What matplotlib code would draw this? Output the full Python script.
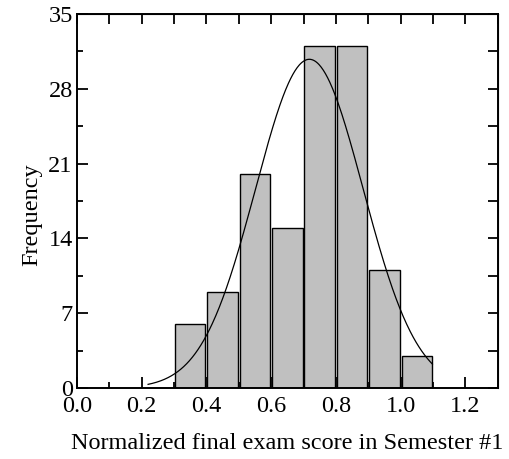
import numpy as np
import matplotlib
matplotlib.use("Agg")
import matplotlib.pyplot as plt

# Data
bin_starts = [0.3, 0.4, 0.5, 0.6, 0.7, 0.8, 0.9, 1.0]
counts = [6, 9, 20, 15, 32, 32, 11, 3]
bin_width = 0.1
fit_mean = 0.718
fit_sd = 0.166
curve_range = (0.22, 1.098)
x_ticks = [0.0, 0.2, 0.4, 0.6, 0.8, 1.0, 1.2]
y_ticks = [0, 7, 14, 21, 28, 35]

plt.rcParams['font.family'] = ['Liberation Serif', 'DejaVu Serif']

fig = plt.figure(figsize=(5.09, 4.59), dpi=100)
ax = fig.add_axes([0.151, 0.1547, 0.827, 0.8148])

ax.bar(np.array(bin_starts) + 0.003, counts, width=0.094, align='edge',
       color='#c0c0c0', edgecolor='black', linewidth=1.0, zorder=2)

N = sum(counts)
xs = np.linspace(curve_range[0], curve_range[1], 400)
ys = N * bin_width / (fit_sd * np.sqrt(2 * np.pi)) * np.exp(-0.5 * ((xs - fit_mean) / fit_sd) ** 2)
ax.plot(xs, ys, color='black', linewidth=0.9, zorder=3)

ax.set_xlim(0, 1.3)
ax.set_ylim(0, 35)
ax.set_xticks(x_ticks)
ax.set_xticklabels([f"{v:.1f}" for v in x_ticks])
ax.set_xticks(np.arange(0.1, 1.3, 0.2), minor=True)
ax.set_yticks(y_ticks)
ax.set_yticks(np.arange(3.5, 35, 7), minor=True)
ax.tick_params(which='major', direction='in', length=8, width=1.3, labelsize=17.5)
ax.tick_params(axis='x', which='major', pad=5.5)
ax.tick_params(axis='y', which='major', pad=3)
ax.tick_params(which='minor', direction='in', length=4.5, width=1.3)
for s in ax.spines.values():
    s.set_linewidth(1.4)

sx = ax.secondary_xaxis('top')
sx.set_xticks(np.arange(0, 1.31, 0.1))
sx.tick_params(direction='in', length=7, width=1.3, labeltop=False)
sy = ax.secondary_yaxis('right')
sy.set_yticks(np.arange(0, 35.1, 3.5))
sy.tick_params(direction='in', length=7, width=1.3, labelright=False)

ax.set_xlabel('Normalized final exam score in Semester #1', fontsize=17.5, labelpad=11.5)
ax.set_ylabel('Frequency', fontsize=17.5)
ax.yaxis.set_label_coords(-0.081, 0.464)

fig.savefig('out.png', dpi=100)
